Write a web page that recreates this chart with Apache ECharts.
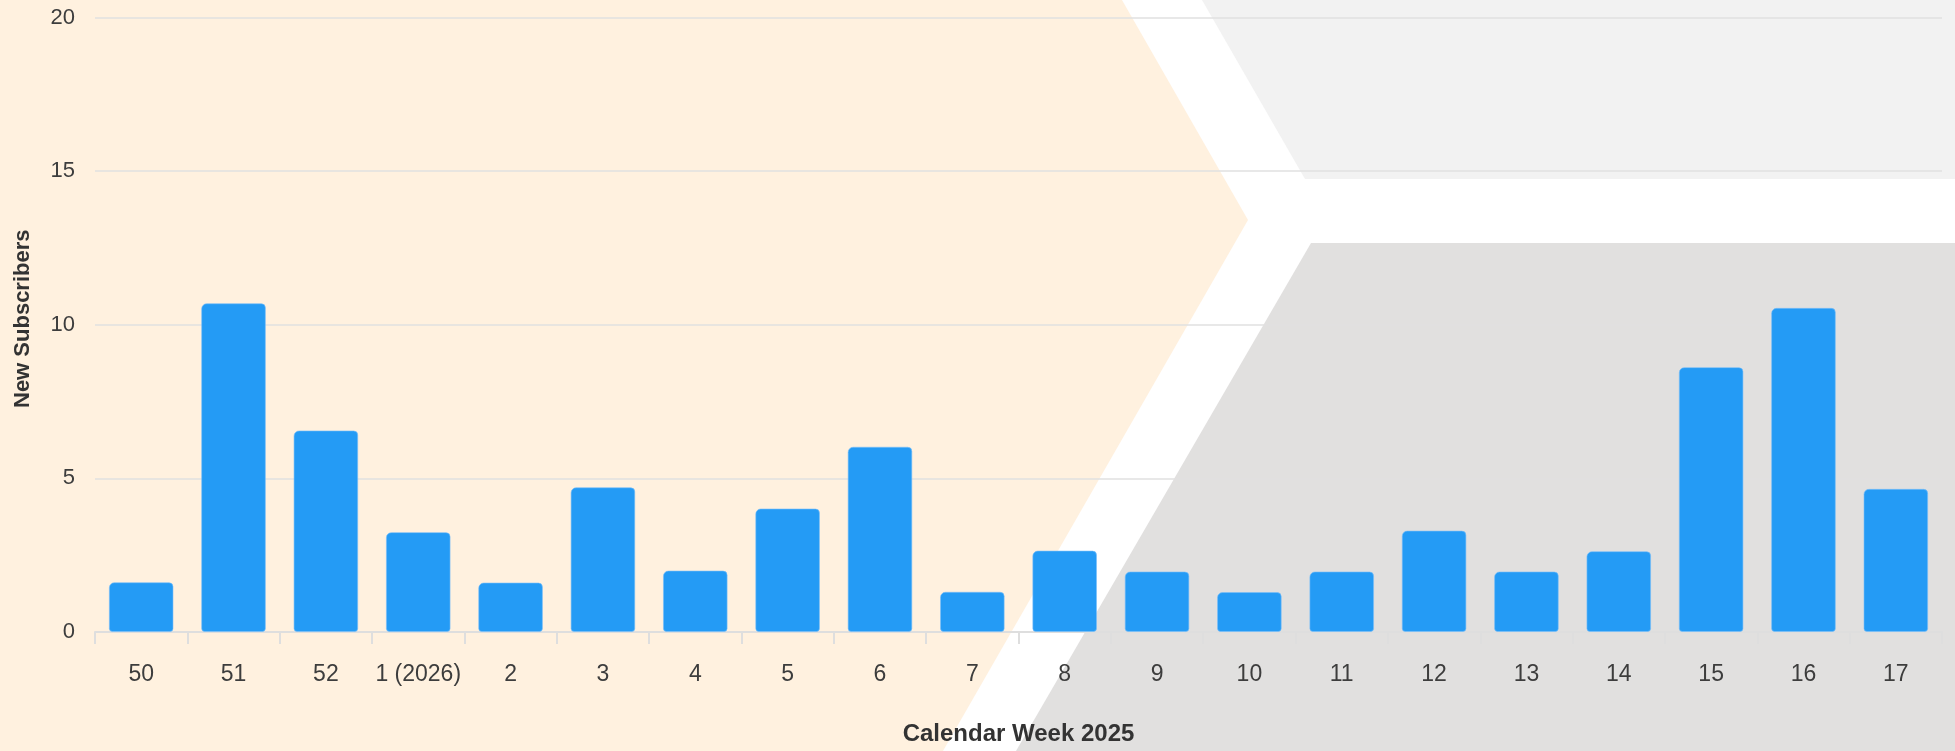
<!DOCTYPE html>
<html>
<head>
<meta charset="utf-8">
<script src="https://cdn.jsdelivr.net/npm/echarts@6/dist/echarts.min.js"></script>
<style>
html,body{margin:0;padding:0;background:#ffffff;}
#chart{width:1955px;height:751px;}
</style>
</head>
<body>
<div id="chart"></div>
<script>
const weeks = ['50','51','52','1 (2026)','2','3','4','5','6','7','8','9','10','11','12','13','14','15','16','17'];
const newSubscribers = [1.62,10.70,6.56,3.25,1.61,4.71,2.00,4.02,6.03,1.31,2.65,1.97,1.30,1.97,3.30,1.97,2.63,8.62,10.55,4.66];
const yTicks = [0,5,10,15,20];

const chart = echarts.init(document.getElementById('chart'), null, {renderer:'canvas'});
const fontFam = '"Liberation Sans", Arial, sans-serif';
chart.setOption({
  animation:false,
  backgroundColor:'#ffffff',
  graphic:[
    {type:'polygon', z:-10, silent:true, shape:{points:[[0,0],[1122,0],[1248,220],[943,751],[0,751]]}, style:{fill:'#FFF1DF'}},
    {type:'polygon', z:-10, silent:true, shape:{points:[[1202,0],[1955,0],[1955,179],[1305,179]]}, style:{fill:'#F2F2F2'}},
    {type:'polygon', z:-10, silent:true, shape:{points:[[1311,243],[1955,243],[1955,751],[1016,751]]}, style:{fill:'#E1E0DF'}}
  ],
  grid:{left:95,right:13,top:17.5,bottom:114,containLabel:false},
  xAxis:{
    type:'category',
    data:weeks,
    boundaryGap:true,
    name:'Calendar Week 2025',
    nameLocation:'middle',
    nameGap:90,
    nameTextStyle:{fontFamily:fontFam,fontSize:24,fontWeight:'bold',color:'#333333'},
    axisLine:{show:true,lineStyle:{color:'#DEDEDE',width:2}},
    axisTick:{show:true,length:12,lineStyle:{color:'#DEDEDE',width:2}},
    axisLabel:{fontFamily:fontFam,fontSize:23,color:'#3D3D3D',margin:31,interval:0}
  },
  yAxis:{
    type:'value',
    min:yTicks[0],
    max:yTicks[yTicks.length-1],
    interval:5,
    name:'New Subscribers',
    nameLocation:'middle',
    nameGap:61,
    nameTextStyle:{fontFamily:fontFam,fontSize:22,fontWeight:'bold',color:'#333333',padding:[0,0,0,12]},
    axisLine:{show:false},
    axisTick:{show:false},
    axisLabel:{fontFamily:fontFam,fontSize:22,color:'#3D3D3D',margin:20},
    splitLine:{show:true,lineStyle:{color:'#E0E0E0',width:1.5}}
  },
  series:[{
    type:'bar',
    data:newSubscribers,
    barWidth:'70%',
    itemStyle:{color:'#249BF5',borderRadius:[5,4,3,3],borderColor:'rgba(120,190,250,0.6)',borderWidth:1}
  }]
});
</script>
</body>
</html>
